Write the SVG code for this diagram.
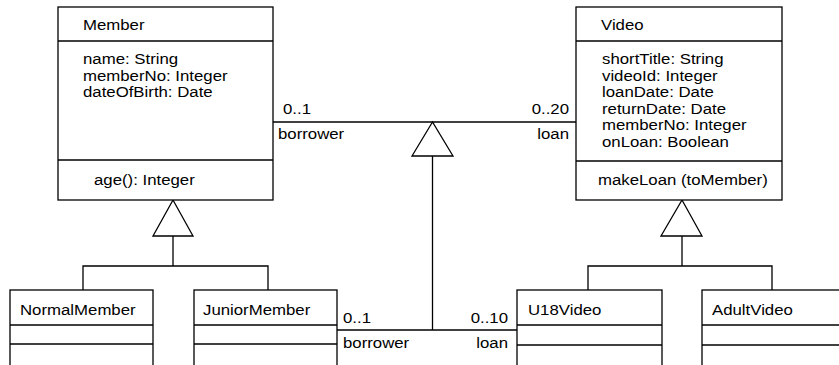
<svg xmlns="http://www.w3.org/2000/svg" width="839" height="365" viewBox="0 0 839 365">
  <style>
    .box { fill: #ffffff; stroke: #000000; stroke-width: 1.3; }
    .sep { stroke: #000000; stroke-width: 1.3; }
    .line { fill: none; stroke: #000000; stroke-width: 1.3; }
    .tri { fill: #ffffff; stroke: #000000; stroke-width: 1.3; }
    text { font-family: "Liberation Sans", Arial, sans-serif; font-size: 15px; fill: #000000; }
    .end { text-anchor: end; }
  </style>
  <rect width="839" height="365" fill="#ffffff"/>

  <!-- connectors: associations and generalisations -->
  <g id="connectors">
    <!-- Member - Video association -->
    <line class="line" x1="273" y1="122" x2="576" y2="122"/>
    <!-- JuniorMember - U18Video association -->
    <line class="line" x1="337" y1="330" x2="517" y2="330"/>
    <!-- generalisation of the lower association to the upper one -->
    <line class="line" x1="432.5" y1="156" x2="432.5" y2="330"/>
    <polygon class="tri" points="432.5,122 412,156 453,156"/>
    <!-- Member specialisations -->
    <polyline class="line" points="83,290 83,266 268,266 268,290"/>
    <line class="line" x1="173" y1="236" x2="173" y2="266"/>
    <polygon class="tri" points="173,200 153,236 193,236"/>
    <!-- Video specialisations -->
    <polyline class="line" points="588,290 588,266 772,266 772,290"/>
    <line class="line" x1="682" y1="236" x2="682" y2="266"/>
    <polygon class="tri" points="682,200 661,236 702,236"/>
    <!-- role names and multiplicities -->
    <text transform="translate(283,114) scale(1.12,1)">0..1</text>
    <text transform="translate(278,139) scale(1.12,1)">borrower</text>
    <text class="end" transform="translate(569,114) scale(1.12,1)">0..20</text>
    <text class="end" transform="translate(569,139) scale(1.12,1)">loan</text>
    <text transform="translate(343,323) scale(1.12,1)">0..1</text>
    <text transform="translate(343,348) scale(1.12,1)">borrower</text>
    <text class="end" transform="translate(508,323) scale(1.12,1)">0..10</text>
    <text class="end" transform="translate(508,348) scale(1.12,1)">loan</text>
  </g>

  <g id="Member">
    <rect class="box" x="58" y="7" width="215" height="193"/>
    <line class="sep" x1="58" y1="41" x2="273" y2="41"/>
    <line class="sep" x1="58" y1="160" x2="273" y2="160"/>
    <text transform="translate(83,30) scale(1.12,1)">Member</text>
    <text transform="translate(83,64) scale(1.12,1)">name: String</text>
    <text transform="translate(83,80.5) scale(1.12,1)">memberNo: Integer</text>
    <text transform="translate(83,97) scale(1.12,1)">dateOfBirth: Date</text>
    <text transform="translate(94,185) scale(1.12,1)">age(): Integer</text>
  </g>

  <g id="Video">
    <rect class="box" x="576" y="7" width="206" height="193"/>
    <line class="sep" x1="576" y1="41" x2="782" y2="41"/>
    <line class="sep" x1="576" y1="161" x2="782" y2="161"/>
    <text transform="translate(601,30) scale(1.12,1)">Video</text>
    <text transform="translate(602,64) scale(1.12,1)">shortTitle: String</text>
    <text transform="translate(602,80.5) scale(1.12,1)">videoId: Integer</text>
    <text transform="translate(602,97) scale(1.12,1)">loanDate: Date</text>
    <text transform="translate(602,113.5) scale(1.12,1)">returnDate: Date</text>
    <text transform="translate(602,130) scale(1.12,1)">memberNo: Integer</text>
    <text transform="translate(602,146.5) scale(1.12,1)">onLoan: Boolean</text>
    <text transform="translate(598,185) scale(1.12,1)">makeLoan (toMember)</text>
  </g>

  <g id="NormalMember">
    <rect class="box" x="10" y="290" width="143" height="80"/>
    <line class="sep" x1="10" y1="325" x2="153" y2="325"/>
    <line class="sep" x1="10" y1="344" x2="153" y2="344"/>
    <text transform="translate(20,315) scale(1.12,1)">NormalMember</text>
  </g>

  <g id="JuniorMember">
    <rect class="box" x="194" y="290" width="143" height="80"/>
    <line class="sep" x1="194" y1="325" x2="337" y2="325"/>
    <line class="sep" x1="194" y1="344" x2="337" y2="344"/>
    <text transform="translate(203,315) scale(1.12,1)">JuniorMember</text>
  </g>

  <g id="U18Video">
    <rect class="box" x="517" y="290" width="145" height="80"/>
    <line class="sep" x1="517" y1="325" x2="662" y2="325"/>
    <line class="sep" x1="517" y1="345" x2="662" y2="345"/>
    <text transform="translate(528,315) scale(1.12,1)">U18Video</text>
  </g>

  <g id="AdultVideo">
    <rect class="box" x="702" y="290" width="145" height="80"/>
    <line class="sep" x1="702" y1="325" x2="847" y2="325"/>
    <line class="sep" x1="702" y1="345" x2="847" y2="345"/>
    <text transform="translate(712,315) scale(1.12,1)">AdultVideo</text>
  </g>
</svg>
